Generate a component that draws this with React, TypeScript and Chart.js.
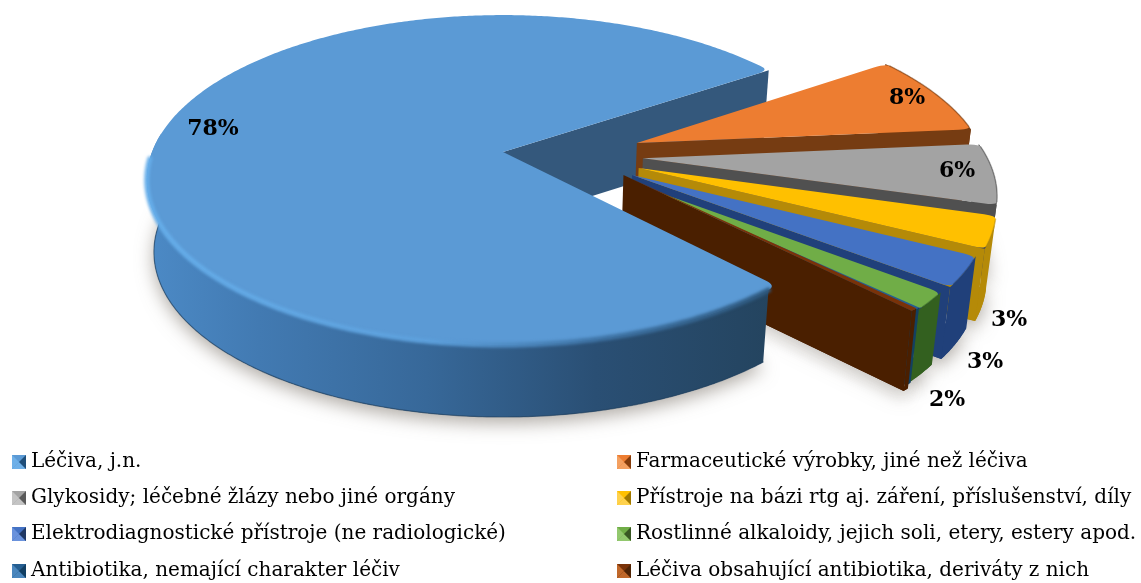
import React, { useEffect, useRef } from "react";
import { Chart, registerables } from "chart.js";

Chart.register(...registerables);

const categories = [
  "Léčiva, j.n.",
  "Farmaceutické výrobky, jiné než léčiva",
  "Glykosidy; léčebné žlázy nebo jiné orgány",
  "Přístroje na bázi rtg aj. záření, příslušenství, díly",
  "Elektrodiagnostické přístroje (ne radiologické)",
  "Rostlinné alkaloidy, jejich soli, etery, estery apod.",
  "Antibiotika, nemající charakter léčiv",
  "Léčiva obsahující antibiotika, deriváty z nich",
];
const shares = [77.5, 8.0, 6.0, 3.1, 3.0, 1.8, 0.3, 0.3];
const shareLabels = ["78%", "8%", "6%", "3%", "3%", "2%", "", ""];

const faceColors = ["#5b9ad5", "#ed7d31", "#a3a3a3", "#ffc000", "#4472c4", "#70ad47", "#255e91", "#7a3208"];
const wallColors = ["#2a4f72", "#763c12", "#505050", "#b58a08", "#20407a", "#33601f", "#134060", "#4a1f00"];
const markerLight = ["#6fb0e8", "#f4a060", "#c4c4c4", "#ffd24d", "#6a92dc", "#92c86e", "#4a86bd", "#c0682a"];
const markerDark = ["#1f4e79", "#843c0c", "#5a5a5a", "#a07800", "#1f3864", "#385723", "#123f63", "#4f2405"];

// layout of the exploded 3-D view (plane units, fractions of the radius)
const EXPLODE = [[0, 0], [0.385, -0.056], [0.396, 0.038], [0.38, 0.098], [0.359, 0.14], [0.348, 0.18], [0.34, 0.16], [0.335, 0.14]];
const RADII = [1, 0.985, 0.975, 0.975, 0.963, 0.94, 0.955, 0.97];
const DEPTHS = [72, 72, 72, 72, 72, 72, 75, 80];
const LABEL_POS = [[213, 129], [907, 98], [957, 171], [1009, 320], [985, 362], [947, 400]];

const PX = 503, PY = 152, AX = 351, BY = 160.2, K = -0.17, SHRINK = 0.98;

const proj = (u: number, v: number) => {
  const w = 1 + K * v;
  return [PX + (AX * u) / w, PY + (BY * v) / w];
};
const drop = (p: number[], i: number) => [PX + (p[0] - PX) * SHRINK, p[1] + DEPTHS[i]];

const arcPts = (i: number, a0: number, a1: number) => {
  const [ox, oy] = EXPLODE[i];
  const r = RADII[i];
  const n = Math.max(4, Math.ceil(Math.abs(a1 - a0) / 0.01));
  const pts: number[][] = [];
  for (let k = 0; k <= n; k++) {
    const a = a0 + ((a1 - a0) * k) / n;
    pts.push(proj(ox + r * Math.cos(a), oy + r * Math.sin(a)));
  }
  return pts;
};

const poly = (ctx: CanvasRenderingContext2D, pts: number[][]) => {
  ctx.beginPath();
  pts.forEach((p, i) => (i ? ctx.lineTo(p[0], p[1]) : ctx.moveTo(p[0], p[1])));
  ctx.closePath();
};

const lerp = (a: number[], b: number[], t: number) => [a[0] + (b[0] - a[0]) * t, a[1] + (b[1] - a[1]) * t];

// slice top with softened outer corners
const roundedFace = (ctx: CanvasRenderingContext2D, apex: number[], pts: number[][], k: number) => {
  const n = pts.length - 1;
  ctx.beginPath();
  if (n < k * 4) {
    ctx.moveTo(apex[0], apex[1]);
    pts.forEach((p) => ctx.lineTo(p[0], p[1]));
    ctx.closePath();
    return;
  }
  const d = (p: number[]) => Math.min(0.06, 12 / Math.hypot(p[0] - apex[0], p[1] - apex[1]));
  const a = lerp(pts[0], apex, d(pts[0]));
  const b = lerp(pts[n], apex, d(pts[n]));
  ctx.moveTo(apex[0], apex[1]);
  ctx.lineTo(a[0], a[1]);
  ctx.quadraticCurveTo(pts[0][0], pts[0][1], pts[k][0], pts[k][1]);
  for (let i = k + 1; i <= n - k; i++) ctx.lineTo(pts[i][0], pts[i][1]);
  ctx.quadraticCurveTo(pts[n][0], pts[n][1], b[0], b[1]);
  ctx.closePath();
};

const pie3d = {
  id: "pie3d",
  beforeDatasetDraw(chart: any) {
    const ctx: CanvasRenderingContext2D = chart.ctx;
    const arcs = chart.getDatasetMeta(0).data;
    const info = arcs.map((arc: any, i: number) => {
      const pts = arcPts(i, arc.startAngle, arc.endAngle);
      const apex = proj(EXPLODE[i][0], EXPLODE[i][1]);
      return { i, pts, apex, drops: pts.map((p) => drop(p, i)), apexDrop: drop(apex, i), a0: arc.startAngle, a1: arc.endAngle };
    });

    // the big slice only shows its outer wall on the near side
    const big = info[0];
    const idxAt = (a: number) => Math.round(((a - big.a0) / (big.a1 - big.a0)) * (big.pts.length - 1));
    const nearEnd = idxAt(Math.PI * 1.04);
    const rimEnd = idxAt(Math.PI * 0.99);
    const bigFrontTop = big.pts.slice(3, nearEnd);
    const bigFrontDrop = big.drops.slice(3, nearEnd);

    // soft shadow on the floor
    ctx.save();
    ctx.shadowColor = "rgba(110,100,90,0.55)";
    ctx.shadowBlur = 18;
    ctx.shadowOffsetY = 6;
    info.slice(1).forEach((s: any) => {
      poly(ctx, [s.apexDrop, ...s.drops]);
      ctx.fillStyle = wallColors[s.i];
      ctx.fill();
    });
    poly(ctx, [big.apex, ...bigFrontDrop]);
    ctx.fillStyle = wallColors[0];
    ctx.fill();
    ctx.restore();

    const bigWall = ctx.createLinearGradient(147, 0, 770, 0);
    bigWall.addColorStop(0, "#4c8ac6");
    bigWall.addColorStop(0.18, "#427ab2");
    bigWall.addColorStop(0.45, "#376899");
    bigWall.addColorStop(0.72, "#2a4f74");
    bigWall.addColorStop(1, "#24445f");

    const radialWall = (s: any, col: any) => {
      const last = s.pts[s.pts.length - 1];
      poly(ctx, [s.apex, last, s.drops[s.drops.length - 1], s.apexDrop]);
      ctx.fillStyle = col;
      ctx.fill();
    };
    const outerWall = (s: any, col: any) => {
      poly(ctx, [...s.pts, ...[...s.drops].reverse()]);
      ctx.fillStyle = col;
      ctx.fill();
    };
    const face = (s: any, k: number) => {
      roundedFace(ctx, s.apex, s.pts, k);
      ctx.fillStyle = faceColors[s.i];
      ctx.fill();
    };
    const rim = (pts: number[][], col: any, w: number, blur: number, alpha = 1) => {
      ctx.save();
      ctx.filter = `blur(${blur}px)`;
      ctx.globalAlpha = alpha;
      ctx.lineCap = "round";
      ctx.beginPath();
      pts.forEach((p: number[], k: number) => (k ? ctx.lineTo(p[0], p[1]) : ctx.moveTo(p[0], p[1])));
      ctx.strokeStyle = col;
      ctx.lineWidth = w;
      ctx.stroke();
      ctx.restore();
    };

    radialWall(big, "#34587c");

    for (let n = 1; n < info.length; n++) {
      const s = info[n];
      outerWall(s, wallColors[s.i]);
      radialWall(s, wallColors[s.i]);
      face(s, 2);
      const n2 = s.pts.length - 1;
      if (n2 > 8) rim(s.pts.slice(2, n2 - 1), wallColors[s.i], 1.5, 0.6, 0.5);
    }

    // big slice: near wall, top face, bevel
    poly(ctx, [...bigFrontTop, ...[...bigFrontDrop].reverse()]);
    ctx.fillStyle = bigWall;
    ctx.fill();
    rim(bigFrontDrop, "#20405e", 1.2, 0.6, 0.6);
    face(big, 3);
    const rimGrad = ctx.createLinearGradient(147, 0, 770, 0);
    rimGrad.addColorStop(0, "#66aeea");
    rimGrad.addColorStop(0.45, "#5da0dc");
    rimGrad.addColorStop(0.72, "#3f74a6");
    rimGrad.addColorStop(1, "#2f5a80");
    rim(big.pts.slice(3, rimEnd), rimGrad, 5, 1.8);

    return false;
  },
  afterDraw(chart: any) {
    const ctx: CanvasRenderingContext2D = chart.ctx;
    ctx.save();
    // value labels
    ctx.font = "bold 22px 'DejaVu Serif'";
    ctx.fillStyle = "#000";
    ctx.textAlign = "center";
    ctx.textBaseline = "middle";
    shareLabels.forEach((t, i) => {
      if (t) ctx.fillText(t, LABEL_POS[i][0], LABEL_POS[i][1]);
    });
    // legend
    const rows = [462, 498, 534, 571];
    ctx.font = "20px 'DejaVu Serif'";
    ctx.textAlign = "left";
    categories.forEach((t, i) => {
      const col = i % 2;
      const y = rows[Math.floor(i / 2)];
      const mx = col ? 617 : 12;
      const s = 14;
      const top = y - 7;
      const c = [mx + s / 2, top + s / 2];
      const tri = (a: number[], b: number[], fill: string) => {
        ctx.beginPath();
        ctx.moveTo(c[0], c[1]);
        ctx.lineTo(a[0], a[1]);
        ctx.lineTo(b[0], b[1]);
        ctx.closePath();
        ctx.fillStyle = fill;
        ctx.fill();
      };
      ctx.fillStyle = faceColors[i];
      ctx.fillRect(mx, top, s, s);
      tri([mx, top], [mx + s, top], faceColors[i]);
      tri([mx, top + s], [mx + s, top + s], markerLight[i]);
      tri([mx, top], [mx, top + s], markerLight[i]);
      tri([mx + s, top], [mx + s, top + s], markerDark[i]);
      ctx.fillStyle = "#000";
      ctx.fillText(t, col ? 636 : 31, y);
    });
    ctx.restore();
  },
};

export default function App() {
  const ref = useRef<HTMLCanvasElement>(null);
  useEffect(() => {
    const chart = new Chart(ref.current!, {
      type: "pie",
      data: {
        labels: categories,
        datasets: [{ data: shares, backgroundColor: faceColors, borderWidth: 0 }],
      },
      options: {
        responsive: false,
        animation: false,
        rotation: 137,
        plugins: { legend: { display: false }, tooltip: { enabled: false } },
      },
      plugins: [pie3d],
    } as any);
    return () => chart.destroy();
  }, []);
  return (
    <div style={{ position: "fixed", left: 0, top: 0, width: 1141, height: 583, background: "#fff" }}>
      <canvas ref={ref} width={1141} height={583} style={{ display: "block" }} />
    </div>
  );
}
